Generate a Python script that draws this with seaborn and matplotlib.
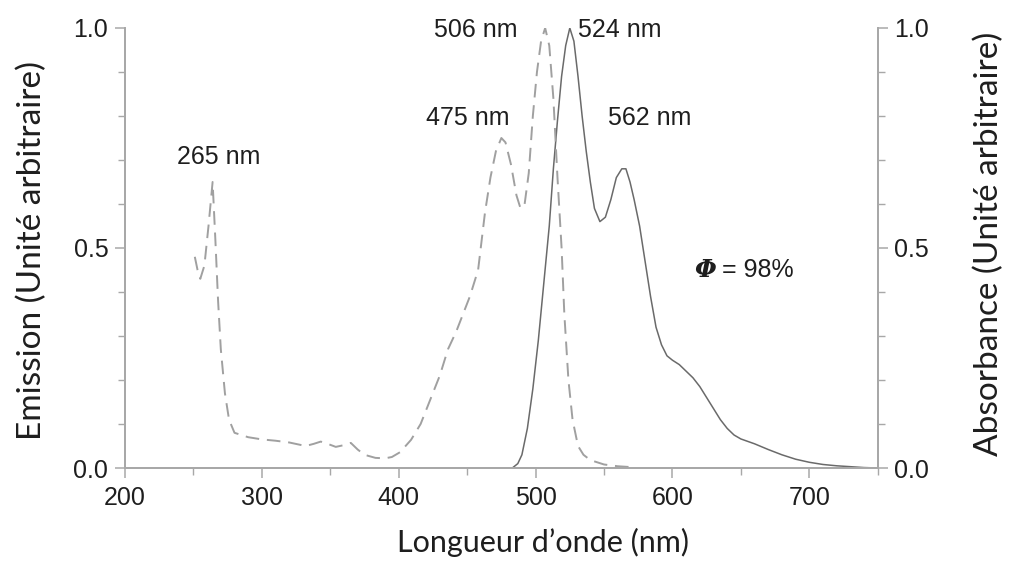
import numpy as np
import pandas as pd
import matplotlib
matplotlib.use("Agg")
import matplotlib.pyplot as plt
from matplotlib.ticker import MultipleLocator, FormatStrFormatter
import seaborn as sns

# dashed curve (right axis, absorbance)
abs_wl = [251, 253, 255, 258, 261, 264, 266, 268, 270, 273, 276, 280, 290, 300, 310,
          320, 332, 338, 343, 348, 354, 360, 365, 370, 375, 383, 390, 395, 401, 409,
          416, 423, 430, 436, 442, 447, 452, 458, 463, 467, 471, 475, 478, 482, 486,
          489, 492, 495, 498, 501, 504, 507, 510, 513, 516, 519, 521, 524, 527, 531,
          535, 540, 550, 560, 570]
abs_val = [0.48, 0.45, 0.43, 0.46, 0.55, 0.65, 0.52, 0.38, 0.27, 0.17, 0.11, 0.08, 0.07, 0.065, 0.062,
           0.058, 0.05, 0.055, 0.06, 0.055, 0.048, 0.052, 0.057, 0.042, 0.03, 0.023, 0.022, 0.025, 0.036, 0.064,
           0.10, 0.155, 0.21, 0.27, 0.31, 0.35, 0.39, 0.45, 0.58, 0.66, 0.72, 0.75, 0.74, 0.69, 0.62,
           0.59, 0.60, 0.67, 0.80, 0.90, 0.97, 1.0, 0.96, 0.84, 0.66, 0.50, 0.35, 0.20, 0.11, 0.05,
           0.03, 0.018, 0.008, 0.004, 0.002]

# solid curve (left axis, emission)
em_wl = [483, 487, 490, 494, 498, 502, 506, 510, 513, 516, 519, 522, 525, 528, 531,
         534, 537, 540, 543, 547, 551, 555, 559, 563, 566, 569, 572, 576, 580, 584,
         588, 592, 596, 600, 605, 610, 615, 620, 625, 630, 635, 640, 645, 650, 660,
         670, 680, 690, 700, 710, 720, 730, 740, 750]
em_val = [0.0, 0.01, 0.03, 0.09, 0.18, 0.29, 0.42, 0.55, 0.68, 0.79, 0.89, 0.96, 1.0, 0.97, 0.89,
          0.80, 0.72, 0.65, 0.59, 0.56, 0.57, 0.61, 0.66, 0.68, 0.68, 0.65, 0.61, 0.55, 0.47, 0.39,
          0.32, 0.28, 0.255, 0.245, 0.235, 0.22, 0.205, 0.185, 0.16, 0.135, 0.11, 0.09, 0.075, 0.066, 0.055,
          0.042, 0.03, 0.02, 0.013, 0.008, 0.005, 0.003, 0.001, 0.0]

peak_labels = ["265 nm", "475 nm", "506 nm", "524 nm", "562 nm"]
peak_pos = [(268.5, 0.706), (450.5, 0.795), (456, 0.995), (561.5, 0.995), (583.5, 0.795)]

df_abs = pd.DataFrame({"wl": abs_wl, "val": abs_val})
df_em = pd.DataFrame({"wl": em_wl, "val": em_val})

sns.set_style("ticks")
plt.rcParams['font.family'] = ['Liberation Sans', 'DejaVu Sans']

spine_c = "#a8a8a8"
text_c = "#1e1e1e"

fig = plt.figure(figsize=(10.09, 5.69), dpi=100)
ax = fig.add_axes([0.1239, 0.1775, 0.746, 0.7733])
ax2 = ax.twinx()

sns.lineplot(data=df_em, x="wl", y="val", ax=ax, color="#6a6a6a", linewidth=1.1)
sns.lineplot(data=df_abs, x="wl", y="val", ax=ax2, color="#a0a0a0", linewidth=1.4,
             linestyle=(0, (7, 4)))

for a in (ax, ax2):
    a.set_xlim(200, 750)
    a.set_ylim(0, 1.0)
    a.yaxis.set_major_locator(MultipleLocator(0.5))
    a.yaxis.set_minor_locator(MultipleLocator(0.1))
    a.yaxis.set_major_formatter(FormatStrFormatter("%.1f"))
    a.spines["top"].set_visible(False)
    for s in a.spines.values():
        s.set_color(spine_c)
        s.set_linewidth(1.3)
    a.tick_params(axis="both", which="both", color=spine_c, labelcolor=text_c,
                  labelsize=18, direction="out", pad=5)
    a.tick_params(which="major", length=7, width=1.1)
    a.tick_params(which="minor", length=5, width=1.0)

ax.xaxis.set_major_locator(MultipleLocator(100))
ax.xaxis.set_minor_locator(MultipleLocator(50))
ax.tick_params(axis="x", pad=6)

lab_font = dict(family=['Lato', 'DejaVu Sans'], color=text_c)
ax.set_xlabel("Longueur d\u2019onde (nm)", fontsize=22, **lab_font)
ax.set_ylabel("Emission (Unit\u00e9 arbitraire)", fontsize=24, **lab_font)
ax2.set_ylabel("Absorbance (Unit\u00e9 arbitraire)", fontsize=24, **lab_font)
ax.xaxis.set_label_coords(0.555, -0.135)
ax.yaxis.set_label_coords(-0.104, 0.495)
ax2.yaxis.set_label_coords(1.127, 0.51)

for txt, (px, py) in zip(peak_labels, peak_pos):
    ax.text(px, py, txt, ha="center", va="center", fontsize=18, color=text_c)
ax.text(632, 0.45, "\u03a6", ha="right", va="center", fontsize=18, color=text_c,
        family=['DejaVu Serif'], style="italic", fontweight="bold")
ax.text(636, 0.45, "= 98%", ha="left", va="center", fontsize=18, color=text_c)

fig.savefig("out.png", dpi=100)
